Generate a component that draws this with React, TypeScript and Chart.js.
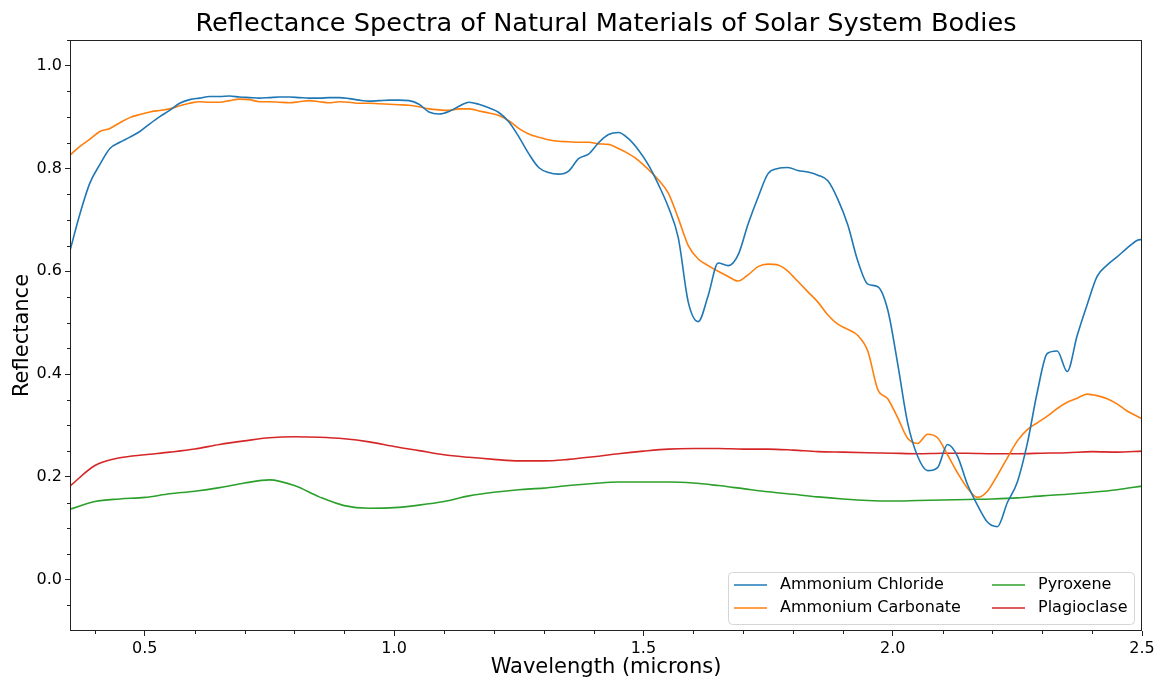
import React, { useEffect, useRef } from 'react';
import { Chart, registerables } from 'chart.js';

Chart.register(...registerables);

const FONT = '"DejaVu Sans", sans-serif';

const TITLE = 'Reflectance Spectra of Natural Materials of Solar System Bodies';
const X_LABEL = 'Wavelength (microns)';
const Y_LABEL = 'Reflectance';

const SERIES_NAMES = ['Ammonium Chloride', 'Ammonium Carbonate', 'Pyroxene', 'Plagioclase'];
const SERIES_COLORS = ['#1f77b4', '#ff7f0e', '#2ca02c', '#d62728'];

// Fine wavelength grid (microns) for the ammonium spectra
const WAVELENGTH_FINE = [
  0.35, 0.37, 0.39, 0.41, 0.43, 0.45, 0.47, 0.49, 0.51, 0.53,
  0.55, 0.57, 0.59, 0.61, 0.63, 0.65, 0.67, 0.69, 0.71, 0.73,
  0.75, 0.77, 0.79, 0.81, 0.83, 0.85, 0.87, 0.89, 0.91, 0.93,
  0.95, 0.97, 0.99, 1.01, 1.03, 1.05, 1.07, 1.09, 1.11, 1.13,
  1.15, 1.17, 1.19, 1.21, 1.23, 1.25, 1.27, 1.29, 1.31, 1.33,
  1.35, 1.37, 1.39, 1.41, 1.43, 1.45, 1.47, 1.49, 1.51, 1.53,
  1.55, 1.57, 1.59, 1.61, 1.63, 1.65, 1.67, 1.69, 1.71, 1.73,
  1.75, 1.77, 1.79, 1.81, 1.83, 1.85, 1.87, 1.89, 1.91, 1.93,
  1.95, 1.97, 1.99, 2.01, 2.03, 2.05, 2.07, 2.09, 2.11, 2.13,
  2.15, 2.17, 2.19, 2.21, 2.23, 2.25, 2.27, 2.29, 2.31, 2.33,
  2.35, 2.37, 2.39, 2.41, 2.43, 2.45, 2.47, 2.49, 2.50,
];

const AMMONIUM_CHLORIDE = [
  0.640, 0.712, 0.772, 0.808, 0.839, 0.851, 0.861, 0.872, 0.887, 0.901,
  0.913, 0.927, 0.934, 0.937, 0.940, 0.940, 0.941, 0.939, 0.938, 0.937,
  0.938, 0.939, 0.939, 0.938, 0.937, 0.937, 0.938, 0.938, 0.936, 0.933,
  0.931, 0.932, 0.933, 0.933, 0.932, 0.925, 0.910, 0.906, 0.911, 0.921,
  0.929, 0.925, 0.918, 0.909, 0.891, 0.862, 0.829, 0.802, 0.792, 0.789,
  0.795, 0.819, 0.828, 0.850, 0.866, 0.870, 0.858, 0.836, 0.807, 0.769,
  0.725, 0.665, 0.540, 0.502, 0.553, 0.616, 0.611, 0.632, 0.692, 0.744,
  0.790, 0.800, 0.802, 0.796, 0.793, 0.787, 0.776, 0.740, 0.690, 0.620,
  0.575, 0.570, 0.525, 0.420, 0.305, 0.240, 0.212, 0.218, 0.263, 0.240,
  0.185, 0.145, 0.112, 0.103, 0.150, 0.190, 0.265, 0.365, 0.440, 0.445,
  0.405, 0.475, 0.535, 0.590, 0.612, 0.628, 0.645, 0.660, 0.662,
];

const AMMONIUM_CARBONATE = [
  0.826, 0.843, 0.857, 0.872, 0.878, 0.889, 0.899, 0.905, 0.910, 0.913,
  0.916, 0.922, 0.927, 0.930, 0.929, 0.929, 0.932, 0.935, 0.934, 0.930,
  0.930, 0.929, 0.928, 0.930, 0.932, 0.930, 0.928, 0.930, 0.929, 0.927,
  0.927, 0.926, 0.925, 0.924, 0.923, 0.920, 0.916, 0.914, 0.913, 0.916,
  0.916, 0.912, 0.908, 0.903, 0.893, 0.878, 0.867, 0.861, 0.856, 0.853,
  0.852, 0.851, 0.851, 0.848, 0.847, 0.839, 0.829, 0.816, 0.798, 0.778,
  0.752, 0.703, 0.650, 0.624, 0.611, 0.600, 0.590, 0.581, 0.593, 0.609,
  0.614, 0.612, 0.600, 0.580, 0.560, 0.540, 0.515, 0.497, 0.487, 0.475,
  0.445, 0.370, 0.352, 0.315, 0.275, 0.265, 0.283, 0.276, 0.243, 0.208,
  0.178, 0.160, 0.172, 0.203, 0.237, 0.270, 0.292, 0.305, 0.318, 0.333,
  0.345, 0.353, 0.361, 0.358, 0.352, 0.342, 0.328, 0.318, 0.313,
];

// Coarse wavelength grid (microns) for the silicate spectra
const WAVELENGTH_COARSE = [
  0.35, 0.40, 0.45, 0.50, 0.55, 0.60, 0.65, 0.70, 0.75, 0.80,
  0.85, 0.90, 0.95, 1.00, 1.05, 1.10, 1.15, 1.20, 1.25, 1.30,
  1.35, 1.40, 1.45, 1.50, 1.55, 1.60, 1.65, 1.70, 1.75, 1.80,
  1.85, 1.90, 1.95, 2.00, 2.05, 2.10, 2.15, 2.20, 2.25, 2.30,
  2.35, 2.40, 2.45, 2.50,
];

const PYROXENE = [
  0.137, 0.152, 0.157, 0.160, 0.167, 0.172, 0.179, 0.188, 0.194, 0.183,
  0.161, 0.144, 0.139, 0.140, 0.145, 0.152, 0.163, 0.170, 0.175, 0.178,
  0.183, 0.187, 0.190, 0.190, 0.190, 0.188, 0.183, 0.177, 0.171, 0.166,
  0.161, 0.157, 0.154, 0.153, 0.154, 0.155, 0.156, 0.157, 0.159, 0.163,
  0.166, 0.170, 0.175, 0.182,
];

const PLAGIOCLASE = [
  0.182, 0.222, 0.237, 0.243, 0.248, 0.254, 0.263, 0.270, 0.276, 0.278,
  0.277, 0.274, 0.268, 0.259, 0.251, 0.243, 0.238, 0.234, 0.231, 0.231,
  0.234, 0.239, 0.245, 0.250, 0.254, 0.255, 0.255, 0.254, 0.254, 0.252,
  0.249, 0.248, 0.247, 0.246, 0.245, 0.246, 0.246, 0.245, 0.245, 0.246,
  0.247, 0.249, 0.248, 0.250,
];

const X_MIN = 0.35;
const X_MAX = 2.5;
const Y_MIN = -0.1;
const Y_MAX = 1.05;

const X_MAJOR_TICKS = [0.5, 1.0, 1.5, 2.0, 2.5];
const X_MINOR_TICKS = [0.4, 0.6, 0.7, 0.8, 0.9, 1.1, 1.2, 1.3, 1.4, 1.6, 1.7, 1.8, 1.9, 2.1, 2.2, 2.3, 2.4];
const Y_MAJOR_TICKS = [0.0, 0.2, 0.4, 0.6, 0.8, 1.0];
const Y_MINOR_TICKS = [-0.05, 0.05, 0.1, 0.15, 0.25, 0.3, 0.35, 0.45, 0.5, 0.55, 0.65, 0.7, 0.75, 0.85, 0.9, 0.95, 1.05];

const TICK_COLOR = '#222';

const zip = (xs: number[], ys: number[]) => xs.map((x, i) => ({ x, y: ys[i] }));

const minorTicksPlugin = {
  id: 'minorTicks',
  afterDraw(chart: any) {
    const { ctx, chartArea, scales } = chart;
    ctx.save();
    ctx.strokeStyle = TICK_COLOR;
    ctx.lineWidth = 1;
    ctx.beginPath();
    for (const v of X_MINOR_TICKS) {
      const px = Math.round(scales.x.getPixelForValue(v)) + 0.5;
      ctx.moveTo(px, chartArea.bottom);
      ctx.lineTo(px, chartArea.bottom + 3);
    }
    for (const v of Y_MINOR_TICKS) {
      const py = Math.round(scales.y.getPixelForValue(v)) + 0.5;
      ctx.moveTo(chartArea.left - 3, py);
      ctx.lineTo(chartArea.left, py);
    }
    ctx.stroke();
    ctx.restore();
  },
};

const spinesPlugin = {
  id: 'spines',
  afterDatasetsDraw(chart: any) {
    const { ctx, chartArea } = chart;
    ctx.save();
    ctx.strokeStyle = TICK_COLOR;
    ctx.lineWidth = 1;
    const l = Math.round(chartArea.left) + 0.5;
    const t = Math.round(chartArea.top) + 0.5;
    const r = Math.round(chartArea.right) - 0.5;
    const b = Math.round(chartArea.bottom) - 0.5;
    ctx.strokeRect(l, t, r - l, b - t);
    ctx.restore();
  },
};

const legendPlugin = {
  id: 'mplLegend',
  afterDraw(chart: any) {
    const { ctx, chartArea } = chart;
    const w = 406;
    const h = 52;
    const right = chartArea.right - 8;
    const bottom = chartArea.bottom - 7;
    const left = right - w;
    const top = bottom - h;
    ctx.save();
    ctx.beginPath();
    (ctx as any).roundRect(left + 0.5, top + 0.5, w, h, 4);
    ctx.fillStyle = 'rgba(255,255,255,0.8)';
    ctx.fill();
    ctx.strokeStyle = '#d6d6d6';
    ctx.lineWidth = 1;
    ctx.stroke();

    const colLine = [6, 264];
    const colText = [52, 310];
    const rowY = [13, 36];
    ctx.font = `16px ${FONT}`;
    ctx.textBaseline = 'middle';
    ctx.textAlign = 'left';
    chart.data.datasets.forEach((ds: any, i: number) => {
      const col = Math.floor(i / 2);
      const row = i % 2;
      const y = top + rowY[row];
      ctx.strokeStyle = ds.borderColor;
      ctx.lineWidth = 1.5;
      ctx.beginPath();
      ctx.moveTo(left + colLine[col], y);
      ctx.lineTo(left + colLine[col] + 33, y);
      ctx.stroke();
      ctx.fillStyle = '#000';
      ctx.fillText(ds.label, left + colText[col], y);
    });
    ctx.restore();
  },
};

export default function App() {
  const canvasRef = useRef<HTMLCanvasElement | null>(null);

  useEffect(() => {
    document.body.style.margin = '0';
    const canvas = canvasRef.current;
    if (!canvas) return;

    const seriesData = [
      zip(WAVELENGTH_FINE, AMMONIUM_CHLORIDE),
      zip(WAVELENGTH_FINE, AMMONIUM_CARBONATE),
      zip(WAVELENGTH_COARSE, PYROXENE),
      zip(WAVELENGTH_COARSE, PLAGIOCLASE),
    ];

    const chart = new Chart(canvas, {
      type: 'line',
      data: {
        datasets: seriesData.map((data, i) => ({
          label: SERIES_NAMES[i],
          data,
          borderColor: SERIES_COLORS[i],
          backgroundColor: SERIES_COLORS[i],
          borderWidth: 1.6,
          pointRadius: 0,
          fill: false,
          cubicInterpolationMode: 'monotone' as const,
        })),
      },
      options: {
        animation: false,
        responsive: false,
        devicePixelRatio: 1,
        layout: { padding: { left: 0, right: 13, top: 0, bottom: 0 } },
        plugins: {
          legend: { display: false },
          tooltip: { enabled: false },
          title: {
            display: true,
            fullSize: false,
            text: TITLE,
            color: '#000',
            font: { family: FONT, size: 25.6, weight: 'normal' },
            padding: { top: 9.3, bottom: 0 },
          },
        },
        scales: {
          x: {
            type: 'linear',
            min: X_MIN,
            max: X_MAX,
            afterBuildTicks: (axis: any) => {
              axis.ticks = X_MAJOR_TICKS.map((value) => ({ value }));
            },
            afterFit: (axis: any) => {
              axis.height = 48;
              axis.paddingLeft = 0;
              axis.paddingRight = 0;
            },
            ticks: {
              color: '#000',
              font: { family: FONT, size: 16 },
              padding: 3,
              maxRotation: 0,
              autoSkip: false,
              callback: (v: any) => Number(v).toFixed(1),
            },
            grid: {
              drawOnChartArea: false,
              drawTicks: true,
              tickLength: 5,
              tickColor: TICK_COLOR,
              tickWidth: 1,
            },
            border: { display: false },
            title: {
              display: true,
              text: X_LABEL,
              color: '#000',
              font: { family: FONT, size: 21, lineHeight: 1.1 },
              padding: { top: 0, bottom: 0 },
            },
          },
          y: {
            type: 'linear',
            min: Y_MIN,
            max: Y_MAX,
            afterBuildTicks: (axis: any) => {
              axis.ticks = Y_MAJOR_TICKS.map((value) => ({ value }));
            },
            afterFit: (axis: any) => {
              axis.width = 70;
              axis.paddingTop = 0;
              axis.paddingBottom = 0;
            },
            ticks: {
              color: '#000',
              font: { family: FONT, size: 16 },
              padding: 3,
              autoSkip: false,
              callback: (v: any) => Number(v).toFixed(1),
            },
            grid: {
              drawOnChartArea: false,
              drawTicks: true,
              tickLength: 5,
              tickColor: TICK_COLOR,
              tickWidth: 1,
            },
            border: { display: false },
            title: {
              display: true,
              text: Y_LABEL,
              color: '#000',
              font: { family: FONT, size: 21 },
              padding: { top: 10, bottom: 0 },
            },
          },
        },
      },
      plugins: [spinesPlugin, minorTicksPlugin, legendPlugin],
    });

    return () => {
      chart.destroy();
    };
  }, []);

  return (
    <div style={{ width: 1155, height: 679 }}>
      <canvas ref={canvasRef} width={1155} height={679} style={{ display: 'block' }} />
    </div>
  );
}
